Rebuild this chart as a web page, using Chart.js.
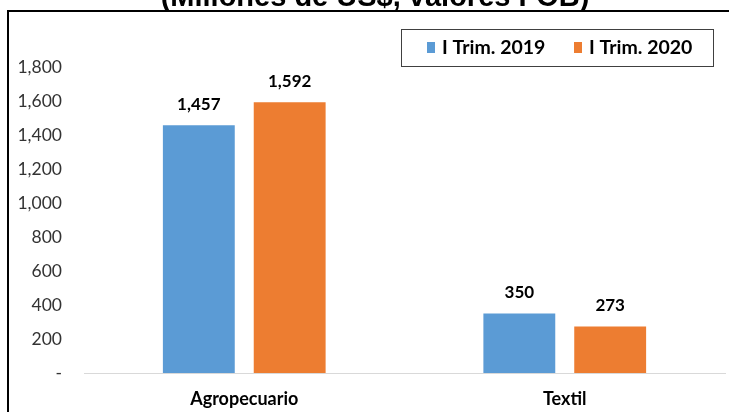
<!DOCTYPE html>
<html lang="es">
<head>
<meta charset="UTF-8">
<title>Exportaciones no tradicionales</title>
<script src="https://cdn.jsdelivr.net/npm/chart.js"></script>
<style>
  html, body { margin: 0; padding: 0; background: #fff; }
  #wrap { position: relative; width: 729px; height: 412px; }
</style>
</head>
<body>
<div id="wrap"><canvas id="myChart" width="729" height="412"></canvas></div>
<script>
// data
const categories = ['Agropecuario', 'Textil'];
const trim2019 = [1457, 350];
const trim2020 = [1592, 273];
const seriesNames = ['I Trim. 2019', 'I Trim. 2020'];
const yTicks = [0, 200, 400, 600, 800, 1000, 1200, 1400, 1600, 1800];
const titleText = '(Millones de US$, valores FOB)';

const BLUE = '#5B9BD5';
const ORANGE = '#ED7D31';

function fmt(v) {
    return v === 0 ? '-' : v.toLocaleString('en-US');
}

// frame, cut-off title, boxed legend and value labels
const decor = {
    id: 'decor',
    afterDraw(chart) {
        const ctx = chart.ctx;
        ctx.save();

        // outer frame
        ctx.strokeStyle = '#000';
        ctx.lineWidth = 2;
        ctx.strokeRect(8, 11, 760, 430);

        // title (mostly cropped at the top)
        ctx.fillStyle = '#000';
        ctx.font = 'bold 29px "Liberation Sans", Arial, sans-serif';
        ctx.textAlign = 'center';
        ctx.textBaseline = 'alphabetic';
        ctx.fillText(titleText, 375, 6);

        // legend
        ctx.lineWidth = 1;
        ctx.strokeStyle = '#404040';
        ctx.strokeRect(401.5, 29.5, 312, 37);
        ctx.font = 'bold 19.5px Lato, sans-serif';
        ctx.textAlign = 'left';
        ctx.textBaseline = 'middle';
        const legX = [427, 574];
        chart.data.datasets.forEach((ds, i) => {
            ctx.fillStyle = ds.backgroundColor;
            ctx.fillRect(legX[i], 42, 8, 11);
            ctx.fillStyle = '#000';
            ctx.fillText(ds.label, legX[i] + 15, 47.5);
        });

        // value labels
        ctx.font = 'bold 17px Lato, sans-serif';
        ctx.textAlign = 'center';
        chart.data.datasets.forEach((ds, i) => {
            chart.getDatasetMeta(i).data.forEach((bar, j) => {
                ctx.fillText(fmt(ds.data[j]), bar.x, bar.y - 21);
            });
        });
        ctx.restore();
    }
};

const ctx = document.getElementById('myChart').getContext('2d');
const myChart = new Chart(ctx, {
    type: 'bar',
    data: {
        labels: categories,
        datasets: [{
            label: seriesNames[0],
            data: trim2019,
            backgroundColor: BLUE,
            categoryPercentage: 0.567,
            barPercentage: 0.791
        }, {
            label: seriesNames[1],
            data: trim2020,
            backgroundColor: ORANGE,
            categoryPercentage: 0.567,
            barPercentage: 0.791
        }]
    },
    options: {
        responsive: false,
        animation: false,
        layout: { padding: { top: 67, right: 4, left: 0, bottom: 0 } },
        plugins: {
            legend: { display: false },
            title: { display: false },
            tooltip: { enabled: false }
        },
        scales: {
            x: {
                grid: { display: false, drawTicks: false },
                border: { display: true, color: '#D9D9D9', width: 1 },
                ticks: {
                    color: '#000',
                    padding: 15,
                    font: { family: 'Lato', size: 18, weight: 'bold' }
                },
                afterFit(scale) { scale.height = 39; }
            },
            y: {
                min: 0,
                max: 1800,
                afterBuildTicks(scale) {
                    scale.ticks = yTicks.map(v => ({ value: v }));
                },
                grid: { display: false, drawTicks: false },
                border: { display: false },
                ticks: {
                    color: '#333',
                    padding: 22,
                    font: { family: 'Lato', size: 17.5 },
                    callback: v => fmt(v)
                },
                afterFit(scale) { scale.width = 84; }
            }
        }
    },
    plugins: [decor]
});
</script>
</body>
</html>
